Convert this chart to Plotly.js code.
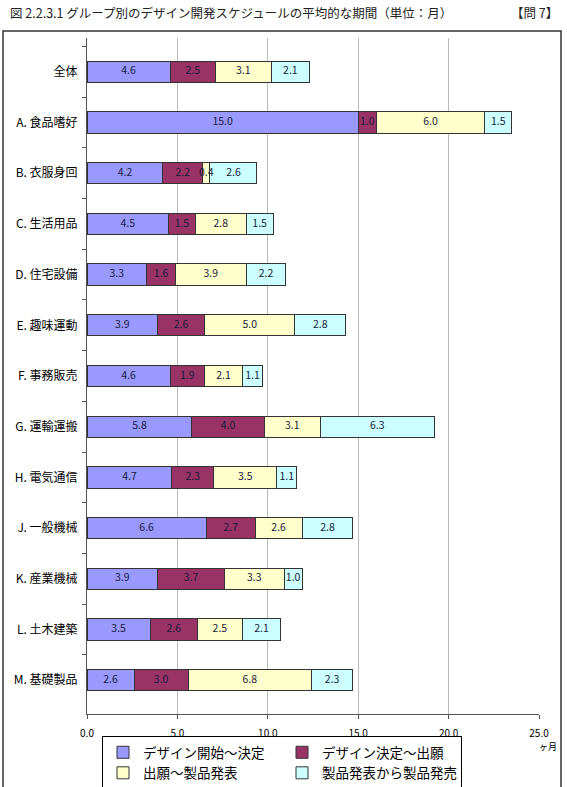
<!DOCTYPE html>
<html>
<head>
<meta charset="utf-8">
<script src="https://cdn.plot.ly/plotly-3.0.1.min.js"></script>
<style>
html,body{margin:0;padding:0;background:#fff;}
#chart{width:567px;height:787px;}
</style>
</head>
<body>
<div id="chart"></div>
<script>
const categories = ["全体","A. 食品嗜好","B. 衣服身回","C. 生活用品","D. 住宅設備","E. 趣味運動","F. 事務販売","G. 運輸運搬","H. 電気通信","J. 一般機械","K. 産業機械","L. 土木建築","M. 基礎製品"];
const seriesNames = ["デザイン開始～決定","デザイン決定～出願","出願～製品発表","製品発表から製品発売"];
const startToDecision   = [4.6, 15.0, 4.2, 4.5, 3.3, 3.9, 4.6, 5.8, 4.7, 6.6, 3.9, 3.5, 2.6];
const decisionToFiling  = [2.5, 1.0, 2.2, 1.5, 1.6, 2.6, 1.9, 4.0, 2.3, 2.7, 3.7, 2.6, 3.0];
const filingToAnnounce  = [3.1, 6.0, 0.4, 2.8, 3.9, 5.0, 2.1, 3.1, 3.5, 2.6, 3.3, 2.5, 6.8];
const announceToRelease = [2.1, 1.5, 2.6, 1.5, 2.2, 2.8, 1.1, 6.3, 1.1, 2.8, 1.0, 2.1, 2.3];
const xTickVals = [0, 5, 10, 15, 20, 25];

const colors = ["#9999FF","#993366","#FFFFCC","#CCFFFF"];
const seriesValues = [startToDecision, decisionToFiling, filingToAnnounce, announceToRelease];
const FONT = "Noto Sans CJK JP, Noto Sans, sans-serif";

const traces = seriesValues.map((vals, i) => ({
  type: "bar",
  orientation: "h",
  name: seriesNames[i],
  y: categories,
  x: vals,
  width: 0.42,
  marker: {color: colors[i], line: {color: "#333333", width: 1}},
  hoverinfo: "none"
}));

// value labels drawn on top of all bars, centred in each segment (computed from the data)
const labelX = [], labelY = [], labelT = [];
categories.forEach((c, j) => {
  let base = 0;
  seriesValues.forEach(vals => {
    labelX.push(base + vals[j] / 2);
    labelY.push(c);
    labelT.push(vals[j].toFixed(1));
    base += vals[j];
  });
});
traces.push({
  type: "scatter", mode: "text",
  x: labelX, y: labelY, text: labelT,
  textposition: "middle center",
  textfont: {family: FONT, size: 10.5, color: "#1a1a3a"},
  showlegend: false, hoverinfo: "none", cliponaxis: false
});

const layout = {
  width: 567, height: 787,
  margin: {l: 87, r: 28, t: 38, b: 73},
  barmode: "stack",
  paper_bgcolor: "#ffffff",
  plot_bgcolor: "#ffffff",
  font: {family: FONT, color: "#000"},
  showlegend: true,
  legend: {
    orientation: "h",
    xref: "container", yref: "container",
    x: 102/567, xanchor: "left",
    y: (787-736)/787, yanchor: "top",
    entrywidth: 134,
    bordercolor: "#000", borderwidth: 1,
    bgcolor: "#fff",
    font: {family: FONT, size: 13.5, color: "#000"},
    traceorder: "normal"
  },
  xaxis: {
    range: [0, 25],
    tickvals: xTickVals,
    tickformat: ".1f",
    showgrid: true, gridcolor: "#bbbbbb", gridwidth: 1,
    showline: true, linecolor: "#555", linewidth: 1,
    ticks: "outside", ticklen: 4, tickcolor: "#555",
    ticklabelstandoff: 6,
    tickfont: {family: FONT, size: 10, color: "#000"},
    zeroline: false,
    automargin: false,
    fixedrange: true
  },
  yaxis: {
    type: "category",
    autorange: "reversed",
    showgrid: false,
    showline: true, linecolor: "#555", linewidth: 1,
    ticks: "outside", ticklen: 4, tickcolor: "#555",
    tickson: "boundaries",
    ticklabelstandoff: 6,
    tickfont: {family: FONT, size: 12, color: "#000"},
    zeroline: false,
    automargin: false,
    fixedrange: true
  },
  shapes: [{
    type: "rect", xref: "paper", yref: "paper",
    x0: -84/452, x1: 474/452, y0: -0.2, y1: (787-31-73)/676,
    line: {color: "#333", width: 1.5}, fillcolor: "rgba(0,0,0,0)", layer: "below"
  }],
  annotations: [
    {text: "図 2.2.3.1 グループ別のデザイン開発スケジュールの平均的な期間（単位：月）", xref: "paper", yref: "paper",
     x: -79/452, y: (787-73-13)/676, xanchor: "left", yanchor: "middle", showarrow: false,
     font: {family: FONT, size: 12.5, color: "#222"}},
    {text: "【問 7】", xref: "paper", yref: "paper",
     x: 473/452, y: (787-73-13)/676, xanchor: "right", yanchor: "middle", showarrow: false,
     font: {family: FONT, size: 12.5, color: "#222"}},
    {text: "ヶ月", xref: "paper", yref: "paper",
     x: 472/452, y: (714-746)/676, xanchor: "right", yanchor: "middle", showarrow: false,
     font: {family: FONT, size: 9, color: "#000"}}
  ]
};

Plotly.newPlot("chart", traces, layout, {staticPlot: true, displayModeBar: false});
</script>
</body>
</html>
